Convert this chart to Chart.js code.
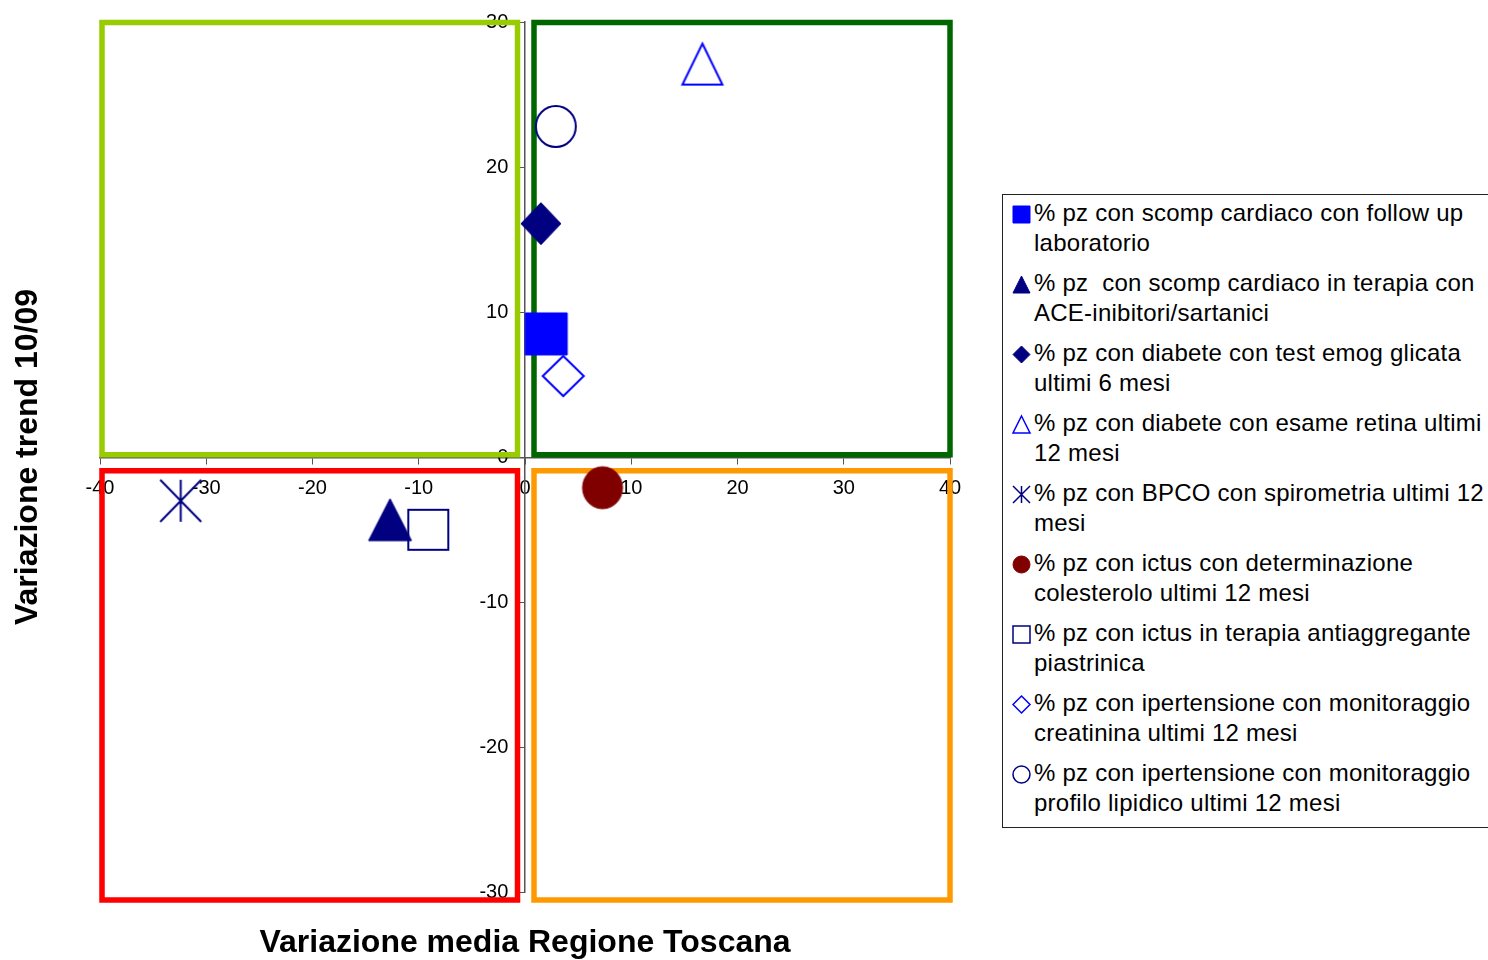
<!DOCTYPE html>
<html>
<head>
<meta charset="utf-8">
<title>Variazione media Regione Toscana</title>
<script src="https://cdn.jsdelivr.net/npm/chart.js@4.4.1/dist/chart.umd.min.js"></script>
<style>
  html, body { margin: 0; padding: 0; background: #fff; }
  body { width: 1488px; height: 960px; overflow: hidden; position: relative; font-family: "Liberation Sans", Arial, sans-serif; }
  #chartBox { position: absolute; left: 0; top: 0; width: 990px; height: 960px; }
  .axisTitle { position: absolute; font-weight: bold; font-size: 32px; line-height: 32px; white-space: nowrap; color: #000; }
  #xTitle { left: 225px; width: 600px; top: 925px; text-align: center; }
  #yTitle { left: -274px; width: 600px; top: 441px; text-align: center; transform: rotate(-90deg); }
  #legend { position: absolute; left: 1002px; top: 194px; width: 520px; height: 629px; border: 1px solid #222; padding-top: 3px; box-sizing: content-box; }
  .item { position: relative; height: 60px; margin-bottom: 10px; }
  .item canvas { position: absolute; left: 7px; }
  .item .txt { position: absolute; left: 31px; top: 0; font-size: 24px; line-height: 30px; letter-spacing: 0.25px; white-space: pre; color: #000; }
</style>
</head>
<body>
<div id="chartBox"><canvas id="chart"></canvas></div>
<div class="axisTitle" id="xTitle">Variazione media Regione Toscana</div>
<div class="axisTitle" id="yTitle">Variazione trend 10/09</div>
<div id="legend"></div>

<script>
// series names (two lines each, as in the legend)
const seriesLabels = [
    ["% pz con scomp cardiaco con follow up", "laboratorio"],
    ["% pz  con scomp cardiaco in terapia con", "ACE-inibitori/sartanici"],
    ["% pz con diabete con test emog glicata", "ultimi 6 mesi"],
    ["% pz con diabete con esame retina ultimi", "12 mesi"],
    ["% pz con BPCO con spirometria ultimi 12", "mesi"],
    ["% pz con ictus con determinazione", "colesterolo ultimi 12 mesi"],
    ["% pz con ictus in terapia antiaggregante", "piastrinica"],
    ["% pz con ipertensione con monitoraggio", "creatinina ultimi 12 mesi"],
    ["% pz con ipertensione con monitoraggio", "profilo lipidico ultimi 12 mesi"]
];

// x = variazione media Regione Toscana, y = variazione trend 10/09
const xValues = [2.0, -12.7, 1.5, 16.7, -32.4, 7.3, -9.1, 3.6, 2.9];
const yValues = [8.5, -4.3, 16.1, 27.1, -3.0, -2.1, -5.0, 5.6, 22.8];

const xTicks = { min: -40, max: 40, step: 10 };
const yTicks = { min: -30, max: 30, step: 10 };

// marker look per series
const markerShapes = ["square", "triangle", "diamond", "triangle", "asterisk", "circle", "square", "diamond", "circle"];
const markerFilled = [true, true, true, false, false, true, false, false, false];
const markerColors = ["#0000FF", "#000080", "#000080", "#0000FF", "#000080", "#800000", "#000080", "#0000FF", "#000080"];
const markerSizes = [[42, 42], [43, 42], [40, 42], [40, 41], [41, 42], [40, 42], [40, 40], [41, 40], [40, 41]];

// quadrant frames: top-left, top-right, bottom-left, bottom-right
const quadrantColors = ["#99CC00", "#006600", "#FF0000", "#FF9900"];

// draw a marker into a small canvas (used as pointStyle and in the legend)
function makeMarker(shape, w, h, color, filled, lw) {
    const pad = Math.ceil(lw) + 1;
    const c = document.createElement("canvas");
    c.width = w + pad * 2;
    c.height = h + pad * 2;
    const g = c.getContext("2d");
    const l = pad, t = pad, r = pad + w, b = pad + h, cx = pad + w / 2, cy = pad + h / 2;
    g.strokeStyle = color;
    g.fillStyle = color;
    g.lineWidth = lw;
    g.lineJoin = "miter";
    g.beginPath();
    if (shape === "square") {
        g.rect(l, t, w, h);
    } else if (shape === "triangle") {
        g.moveTo(cx, t);
        g.lineTo(r, b);
        g.lineTo(l, b);
        g.closePath();
    } else if (shape === "diamond") {
        g.moveTo(cx, t);
        g.lineTo(r, cy);
        g.lineTo(cx, b);
        g.lineTo(l, cy);
        g.closePath();
    } else if (shape === "circle") {
        g.ellipse(cx, cy, w / 2, h / 2, 0, 0, Math.PI * 2);
    } else if (shape === "asterisk") {
        g.moveTo(cx, t); g.lineTo(cx, b);
        g.moveTo(l, t); g.lineTo(r, b);
        g.moveTo(r, t); g.lineTo(l, b);
    }
    if (filled) {
        g.fill();
        g.lineWidth = 1;
    }
    g.stroke();
    return c;
}

// quadrant boxes, placed from the scales (drawn over the tick labels, under the points)
const quadrantPlugin = {
    id: "quadrants",
    beforeDatasetsDraw(chart) {
        const ctx = chart.ctx;
        const xs = chart.scales.x, ys = chart.scales.y;
        const xl = xs.getPixelForValue(xTicks.min) + 2;
        const x0 = xs.getPixelForValue(0);
        const xr = xs.getPixelForValue(xTicks.max);
        const yt = ys.getPixelForValue(yTicks.max) + 0.5;
        const y0 = ys.getPixelForValue(0);
        const yb = ys.getPixelForValue(yTicks.min) + 7.5;
        const boxes = [
            [xl, yt, x0 - 7.5, y0 - 2.5],
            [x0 + 9, yt, xr, y0 - 2.5],
            [xl, y0 + 13.5, x0 - 7.5, yb],
            [x0 + 9, y0 + 13.5, xr, yb]
        ];
        ctx.save();
        ctx.lineWidth = 5.5;
        ctx.lineJoin = "miter";
        boxes.forEach((bx, i) => {
            ctx.strokeStyle = quadrantColors[i];
            ctx.strokeRect(bx[0], bx[1], bx[2] - bx[0], bx[3] - bx[1]);
        });
        ctx.restore();
    }
};

const tickFont = { family: "'Liberation Sans', Arial, sans-serif", size: 20 };

const datasets = seriesLabels.map((lab, i) => ({
    label: lab.join(" "),
    data: [{ x: xValues[i], y: yValues[i] }],
    pointStyle: makeMarker(markerShapes[i], markerSizes[i][0], markerSizes[i][1], markerColors[i], markerFilled[i], 2),
    pointRadius: 21,
    clip: false
}));

const chart = new Chart(document.getElementById("chart").getContext("2d"), {
    type: "scatter",
    data: { datasets: datasets },
    options: {
        responsive: true,
        maintainAspectRatio: false,
        animation: false,
        events: [],
        layout: { padding: { left: 100, top: 20.5, right: 40, bottom: 67.5 } },
        plugins: {
            legend: { display: false },
            tooltip: { enabled: false }
        },
        scales: {
            x: {
                type: "linear",
                min: xTicks.min,
                max: xTicks.max,
                position: { y: 0 },
                ticks: { stepSize: xTicks.step, color: "#000", font: tickFont, padding: 13, maxRotation: 0, autoSkip: false },
                grid: { drawOnChartArea: false, tickLength: 6, color: "#555" },
                border: { color: "#555", width: 1.5 }
            },
            y: {
                type: "linear",
                min: yTicks.min,
                max: yTicks.max,
                position: { x: 0 },
                // labels of an axis placed at x=0 sit right on the line, so pad them with spaces
                ticks: { stepSize: yTicks.step, color: "#000", font: tickFont, autoSkip: false, callback: v => v + "   " },
                grid: { drawOnChartArea: false, tickLength: 6, color: "#555" },
                border: { color: "#555", width: 1.5 }
            }
        }
    },
    plugins: [quadrantPlugin]
});

// legend built from the same series
const legend = document.getElementById("legend");
seriesLabels.forEach((lab, i) => {
    const item = document.createElement("div");
    item.className = "item";
    const mk = makeMarker(markerShapes[i], 17, 17, markerColors[i], markerFilled[i], 1.5);
    mk.style.top = (16.5 - mk.height / 2) + "px";
    item.appendChild(mk);
    const txt = document.createElement("div");
    txt.className = "txt";
    txt.textContent = lab.join("\n");
    item.appendChild(txt);
    legend.appendChild(item);
});
</script>
</body>
</html>
